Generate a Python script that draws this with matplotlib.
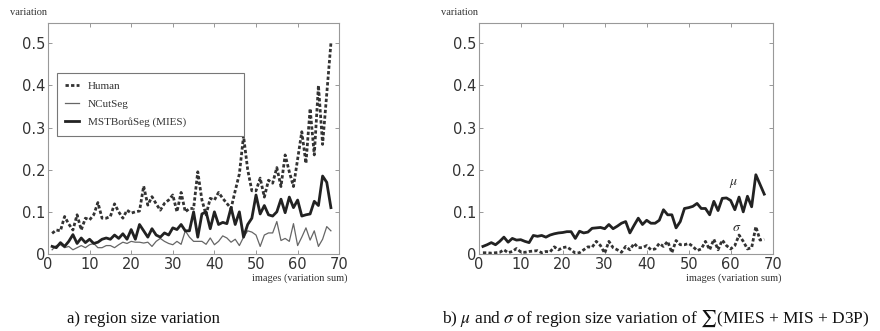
import matplotlib
matplotlib.use("Agg")
import matplotlib.pyplot as plt
import numpy as np

# ---- data ----
images = list(range(1, 69))

human = [0.049, 0.057, 0.055, 0.089, 0.071, 0.057, 0.093, 0.057, 0.085, 0.081,
         0.093, 0.122, 0.085, 0.085, 0.089, 0.119, 0.100, 0.085, 0.104, 0.097,
         0.100, 0.102, 0.161, 0.116, 0.136, 0.119, 0.104, 0.120, 0.128, 0.140,
         0.100, 0.146, 0.100, 0.108, 0.108, 0.195, 0.128, 0.093, 0.132, 0.128,
         0.146, 0.132, 0.120, 0.108, 0.150, 0.190, 0.280, 0.200, 0.150, 0.150,
         0.180, 0.135, 0.175, 0.168, 0.205, 0.160, 0.235, 0.195, 0.160, 0.225,
         0.290, 0.215, 0.345, 0.235, 0.400, 0.260, 0.380, 0.500]

ncut = [0.010, 0.020, 0.022, 0.015, 0.018, 0.010, 0.015, 0.020, 0.015, 0.022,
        0.025, 0.015, 0.015, 0.020, 0.020, 0.015, 0.022, 0.028, 0.025, 0.030,
        0.028, 0.028, 0.026, 0.028, 0.018, 0.030, 0.037, 0.030, 0.025, 0.022,
        0.030, 0.023, 0.055, 0.040, 0.030, 0.030, 0.030, 0.023, 0.038, 0.022,
        0.030, 0.043, 0.038, 0.028, 0.035, 0.020, 0.040, 0.055, 0.052, 0.045,
        0.018, 0.045, 0.050, 0.050, 0.077, 0.032, 0.037, 0.030, 0.072, 0.020,
        0.040, 0.062, 0.033, 0.055, 0.018, 0.035, 0.065, 0.055]

mst = [0.018, 0.015, 0.027, 0.018, 0.030, 0.046, 0.025, 0.038, 0.027, 0.035,
       0.025, 0.028, 0.035, 0.038, 0.035, 0.045, 0.037, 0.048, 0.035, 0.058,
       0.035, 0.070, 0.055, 0.040, 0.060, 0.045, 0.040, 0.050, 0.045, 0.062,
       0.058, 0.070, 0.055, 0.055, 0.100, 0.040, 0.095, 0.100, 0.060, 0.100,
       0.070, 0.075, 0.072, 0.110, 0.070, 0.100, 0.040, 0.070, 0.085, 0.140,
       0.095, 0.115, 0.093, 0.090, 0.100, 0.130, 0.098, 0.135, 0.110, 0.128,
       0.090, 0.093, 0.095, 0.125, 0.115, 0.185, 0.170, 0.110]

mu = [0.018, 0.022, 0.027, 0.022, 0.030, 0.040, 0.028, 0.037, 0.033, 0.034,
      0.030, 0.027, 0.044, 0.042, 0.044, 0.040, 0.045, 0.048, 0.050, 0.051,
      0.053, 0.053, 0.037, 0.054, 0.050, 0.052, 0.061, 0.062, 0.063, 0.060,
      0.070, 0.060, 0.066, 0.073, 0.077, 0.050, 0.068, 0.085, 0.070, 0.080,
      0.073, 0.073, 0.080, 0.105, 0.093, 0.093, 0.062, 0.077, 0.108, 0.110,
      0.113, 0.120, 0.108, 0.108, 0.093, 0.125, 0.103, 0.132, 0.133, 0.127,
      0.105, 0.135, 0.100, 0.137, 0.112, 0.188, 0.165, 0.142]

sigma = [0.003, 0.003, 0.002, 0.003, 0.004, 0.010, 0.003, 0.006, 0.013, 0.005,
         0.004, 0.006, 0.007, 0.008, 0.003, 0.006, 0.005, 0.017, 0.010, 0.015,
         0.017, 0.010, 0.002, 0.003, 0.010, 0.017, 0.016, 0.030, 0.020, 0.002,
         0.030, 0.015, 0.010, 0.004, 0.018, 0.010, 0.025, 0.015, 0.015, 0.020,
         0.010, 0.012, 0.025, 0.018, 0.030, 0.003, 0.032, 0.022, 0.022, 0.025,
         0.018, 0.008, 0.012, 0.030, 0.010, 0.035, 0.010, 0.033, 0.020, 0.012,
         0.020, 0.045, 0.030, 0.012, 0.015, 0.065, 0.033, 0.035]

xticks = [0, 10, 20, 30, 40, 50, 60, 70]
yticks = [0, 0.1, 0.2, 0.3, 0.4, 0.5]
ytick_labels = ["0", "0.1", "0.2", "0.3", "0.4", "0.5"]

plt.rcParams['mathtext.fontset'] = 'stix'
serif = 'Liberation Serif'
dotted = (0, (1.2, 0.8))

fig = plt.figure(figsize=(8.8, 3.31), dpi=100)
ax1 = fig.add_axes([0.0545, 0.2326, 0.331, 0.698])
ax2 = fig.add_axes([0.544, 0.2326, 0.334, 0.698])


def style_axes(ax):
    ax.set_xlim(0, 70)
    ax.set_ylim(0, 0.548)
    ax.set_xticks(xticks)
    ax.set_yticks(yticks)
    ax.set_yticklabels(ytick_labels)
    ax.tick_params(direction='in', length=3, width=0.6, color='#888888',
                   top=True, right=True, labelsize=10.5, labelcolor='#333333', pad=2)
    for s in ax.spines.values():
        s.set_color('#999999')
        s.set_linewidth(0.8)
    ax.text(-0.13, 1.025, 'variation', transform=ax.transAxes, fontsize=7.5,
            family=serif, color='#333333', ha='left', va='bottom')
    ax.text(1.03, -0.085, 'images (variation sum)', transform=ax.transAxes,
            fontsize=7.5, family=serif, color='#333333', ha='right', va='top')


# ---- left panel ----
ax1.plot(images, human, color='#333333', lw=2.0, linestyle=dotted, label='Human')
ax1.plot(images, ncut, color='#666666', lw=0.9, label='NCutSeg')
ax1.plot(images, mst, color='#222222', lw=2.0, label='MSTBorůSeg (MIES)')
style_axes(ax1)
leg = ax1.legend(loc='upper left', bbox_to_anchor=(0.031, 0.524, 0.643, 0.26),
                 mode='expand', prop={'family': serif, 'size': 8},
                 handlelength=1.2, handletextpad=0.8, labelspacing=0.75,
                 borderpad=0.75, fancybox=False, framealpha=1,
                 edgecolor='#777777', borderaxespad=0)
leg.get_frame().set_linewidth(0.8)
for t in leg.get_texts():
    t.set_color('#333333')

# ---- right panel ----
ax2.plot(images, mu, color='#222222', lw=2.0)
ax2.plot(images, sigma, color='#333333', lw=2.0, linestyle=dotted)
style_axes(ax2)
ax2.text(60.6, 0.168, r'$\mu$', fontsize=10, color='#333333', ha='center', va='center')
ax2.text(61.4, 0.063, r'$\sigma$', fontsize=10, color='#333333', ha='center', va='center')

# ---- captions ----
fig.text(0.163, 0.025, 'a) region size variation', family=serif, fontsize=12,
         ha='center', va='baseline', color='#111111')
fig.text(0.745, 0.025, r'b) $\mu$ and $\sigma$ of region size variation of $\sum$(MIES + MIS + D3P)',
         family=serif, fontsize=12.5, ha='center', va='baseline', color='#111111')

fig.savefig('out.png', dpi=100)
